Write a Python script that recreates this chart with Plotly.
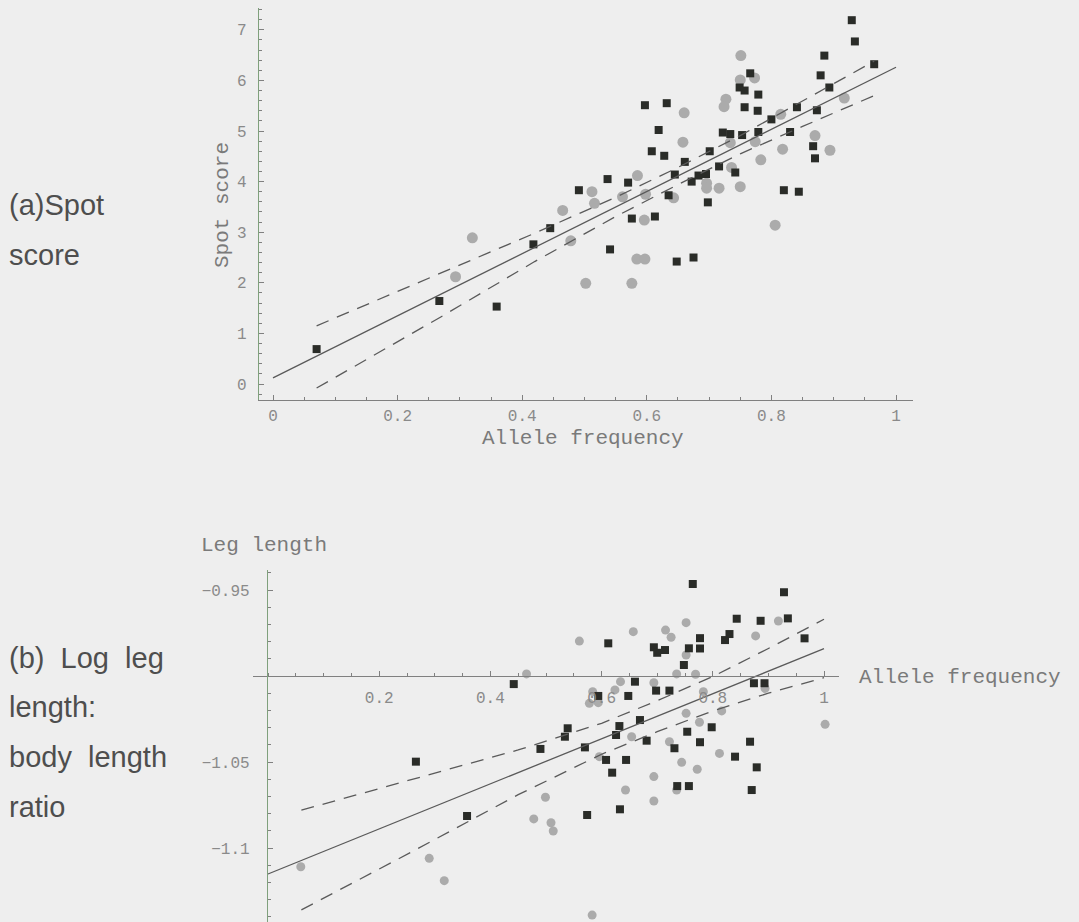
import plotly.graph_objects as go

W, H = 1079, 922

# ---------------- Panel (a): Spot score ----------------
a_sq_x = [0.929, 0.934, 0.885, 0.965, 0.879, 0.766, 0.749, 0.757, 0.779, 0.893, 0.597, 0.632,
          0.757, 0.778, 0.841, 0.873, 0.800, 0.619, 0.722, 0.734, 0.753, 0.779, 0.830, 0.867,
          0.870, 0.608, 0.628, 0.701, 0.661, 0.716, 0.742, 0.537, 0.570, 0.645, 0.683, 0.695,
          0.672, 0.491, 0.820, 0.844, 0.635, 0.698, 0.613, 0.576, 0.445, 0.418, 0.541, 0.648,
          0.675, 0.359, 0.070, 0.267]
a_sq_y = [7.19, 6.77, 6.49, 6.32, 6.10, 6.14, 5.86, 5.80, 5.72, 5.86, 5.51, 5.55,
          5.47, 5.40, 5.47, 5.41, 5.23, 5.02, 4.97, 4.94, 4.92, 4.98, 4.98, 4.70,
          4.46, 4.60, 4.51, 4.60, 4.39, 4.30, 4.18, 4.05, 3.98, 4.14, 4.12, 4.15,
          4.00, 3.83, 3.83, 3.80, 3.73, 3.59, 3.31, 3.27, 3.08, 2.76, 2.66, 2.42,
          2.50, 1.53, 0.69, 1.64]
a_ci_x = [0.751, 0.750, 0.773, 0.727, 0.724, 0.660, 0.917, 0.815, 0.870, 0.894, 0.658, 0.734,
          0.774, 0.818, 0.783, 0.585, 0.736, 0.750, 0.696, 0.696, 0.716, 0.512, 0.561, 0.598,
          0.643, 0.516, 0.465, 0.596, 0.478, 0.584, 0.597, 0.502, 0.576, 0.806, 0.320, 0.293]
a_ci_y = [6.49, 6.01, 6.05, 5.63, 5.48, 5.36, 5.65, 5.33, 4.91, 4.62, 4.78, 4.77,
          4.79, 4.64, 4.43, 4.12, 4.28, 3.90, 3.97, 3.87, 3.87, 3.80, 3.70, 3.75,
          3.68, 3.57, 3.43, 3.24, 2.83, 2.47, 2.47, 1.99, 1.99, 3.14, 2.89, 2.12]
a_fit_x = [0.0, 1.0]
a_fit_y = [0.12, 6.26]
a_band_x = [0.07, 0.27, 0.42, 0.55, 0.65, 0.75, 0.85, 0.965]
a_band_up = [1.15, 2.20, 2.98, 3.69, 4.28, 4.91, 5.59, 6.38]
a_band_lo = [-0.08, 1.33, 2.42, 3.31, 3.94, 4.55, 5.09, 5.70]
a_xticks = [0, 0.2, 0.4, 0.6, 0.8, 1]
a_xtick_text = ["0", "0.2", "0.4", "0.6", "0.8", "1"]
a_yticks = [0, 1, 2, 3, 4, 5, 6, 7]

# ---------------- Panel (b): log leg length ----------------
b_sq_x = [0.764, 0.928, 0.843, 0.886, 0.935, 0.965, 0.612, 0.694, 0.700, 0.714, 0.757, 0.777,
          0.777, 0.822, 0.830, 0.748, 0.442, 0.660, 0.594, 0.648, 0.698, 0.722, 0.874, 0.893,
          0.669, 0.632, 0.626, 0.539, 0.534, 0.490, 0.570, 0.681, 0.754, 0.798, 0.777, 0.867,
          0.731, 0.608, 0.644, 0.840, 0.879, 0.619, 0.574, 0.633, 0.736, 0.757, 0.870, 0.266,
          0.358]
b_sq_y = [-0.9465, -0.9513, -0.9667, -0.9679, -0.9665, -0.9781, -0.9810, -0.9833, -0.9865,
          -0.9849, -0.9839, -0.9780, -0.9840, -0.9791, -0.9756, -0.9936, -1.0047, -1.0033,
          -1.0116, -1.0116, -1.0085, -1.0085, -1.0042, -1.0042, -1.0256, -1.0291, -1.0343,
          -1.0304, -1.0353, -1.0424, -1.0415, -1.0376, -1.0324, -1.0298, -1.0385, -1.0382,
          -1.0420, -1.0488, -1.0488, -1.0469, -1.0531, -1.0562, -1.0808, -1.0775, -1.0640,
          -1.0640, -1.0663, -1.0498, -1.0814]
b_ci_x = [0.752, 0.657, 0.715, 0.725, 0.560, 0.918, 0.877, 0.752, 0.465, 0.735, 0.769, 0.634,
          0.694, 0.624, 0.584, 0.783, 0.894, 0.578, 0.594, 0.752, 0.816, 0.776, 0.654, 1.002,
          0.722, 0.596, 0.812, 0.744, 0.772, 0.694, 0.643, 0.735, 0.694, 0.499, 0.478, 0.509,
          0.513, 0.583, 0.059, 0.290, 0.317]
b_ci_y = [-0.9690, -0.9742, -0.9733, -0.9775, -0.9797, -0.9680, -0.9767, -0.9878, -0.9988,
          -0.9988, -0.9990, -1.0033, -1.0039, -1.0081, -1.0091, -1.0091, -1.0072, -1.0159,
          -1.0155, -1.0217, -1.0203, -1.0269, -1.0353, -1.0281, -1.0382, -1.0469, -1.0450,
          -1.0502, -1.0542, -1.0585, -1.0663, -1.0663, -1.0727, -1.0705, -1.0831, -1.0853,
          -1.0901, -1.1390, -1.1109, -1.1060, -1.1190]
b_fit_x = [0.0, 1.0]
b_fit_y = [-1.1151, -0.9841]
b_band_x = [0.06, 0.26, 0.45, 0.60, 0.70, 0.80, 0.90, 1.0]
b_band_up = [-1.078, -1.060, -1.043, -1.0275, -1.0144, -1.0003, -0.984, -0.967]
b_band_lo = [-1.136, -1.102, -1.069, -1.0455, -1.0324, -1.0203, -1.010, -1.001]
b_xticks = [0.2, 0.4, 0.6, 0.8, 1]
b_xtick_text = ["0.2", "0.4", "0.6", "0.8", "1"]
b_yticks = [-0.95, -1.05, -1.1]
b_ytick_text = ["\u22120.95", "\u22121.05", "\u22121.1"]

# ---------------- styling ----------------
BG = "#eeeeee"
SQ = "#2a2c28"
CI = "#ababab"
LINE = "#5a5a5a"
AXIS = "#808080"
YAXIS = "#7fa07c"
TICKC = "#8a8a8a"
MONO = "Liberation Mono, Courier New, monospace"
SANS = "Liberation Sans, Arial, sans-serif"


def px_x(p):
    return p / W


def px_y(p):
    return 1 - p / H


fig = go.Figure()

# Panel (a) traces
fig.add_trace(go.Scatter(x=a_ci_x, y=a_ci_y, mode="markers", xaxis="x", yaxis="y",
                         marker=dict(symbol="circle", size=11, color=CI), showlegend=False))
fig.add_trace(go.Scatter(x=a_sq_x, y=a_sq_y, mode="markers", xaxis="x", yaxis="y",
                         marker=dict(symbol="square", size=8, color=SQ), showlegend=False))
fig.add_trace(go.Scatter(x=a_fit_x, y=a_fit_y, mode="lines", xaxis="x", yaxis="y",
                         line=dict(color=LINE, width=1.3), showlegend=False))
fig.add_trace(go.Scatter(x=a_band_x, y=a_band_up, mode="lines", xaxis="x", yaxis="y",
                         line=dict(color=LINE, width=1.3, dash="13px,9px"), showlegend=False))
fig.add_trace(go.Scatter(x=a_band_x, y=a_band_lo, mode="lines", xaxis="x", yaxis="y",
                         line=dict(color=LINE, width=1.3, dash="13px,9px"), showlegend=False))

# Panel (b) traces
fig.add_trace(go.Scatter(x=b_ci_x, y=b_ci_y, mode="markers", xaxis="x2", yaxis="y2",
                         marker=dict(symbol="circle", size=9, color=CI), showlegend=False))
fig.add_trace(go.Scatter(x=b_sq_x, y=b_sq_y, mode="markers", xaxis="x2", yaxis="y2",
                         marker=dict(symbol="square", size=8, color=SQ), showlegend=False))
fig.add_trace(go.Scatter(x=b_fit_x, y=b_fit_y, mode="lines", xaxis="x2", yaxis="y2",
                         line=dict(color=LINE, width=1.3), showlegend=False))
fig.add_trace(go.Scatter(x=b_band_x, y=b_band_up, mode="lines", xaxis="x2", yaxis="y2",
                         line=dict(color=LINE, width=1.3, dash="13px,9px"), showlegend=False))
fig.add_trace(go.Scatter(x=b_band_x, y=b_band_lo, mode="lines", xaxis="x2", yaxis="y2",
                         line=dict(color=LINE, width=1.3, dash="13px,9px"), showlegend=False))

tickfont = dict(family=MONO, size=16, color=TICKC)

fig.update_layout(
    width=W, height=H, autosize=False,
    margin=dict(l=0, r=0, t=0, b=0),
    paper_bgcolor=BG, plot_bgcolor=BG,
    showlegend=False,
    xaxis=dict(domain=[px_x(259), px_x(913)], range=[-0.02247, 1.02729], anchor="y",
               showgrid=False, zeroline=False, showline=True, linecolor=AXIS, linewidth=1.3,
               ticks="inside", ticklen=5, tickcolor=AXIS, tickwidth=1,
               tickvals=a_xticks, ticktext=a_xtick_text, tickfont=tickfont,
               ticklabelstandoff=1,
               minor=dict(dtick=0.05, ticks="inside", ticklen=3, tickcolor=AXIS, showgrid=False)),
    yaxis=dict(domain=[px_y(400), px_y(8)], range=[-0.316, 7.431], anchor="x",
               showgrid=False, zeroline=False, showline=True, linecolor=YAXIS, linewidth=1.3,
               ticks="inside", ticklen=5, tickcolor=AXIS, tickwidth=1,
               tickvals=a_yticks, tickfont=tickfont, ticklabelstandoff=8,
               minor=dict(dtick=0.2, ticks="inside", ticklen=3, tickcolor=AXIS, showgrid=False)),
    xaxis2=dict(domain=[px_x(253), px_x(839)], range=[-0.02698, 1.02698],
                anchor="free", position=px_y(676),
                showgrid=False, zeroline=False, showline=True, linecolor=AXIS, linewidth=1.3,
                ticks="inside", ticklen=5, tickcolor=AXIS, tickwidth=1,
                tickvals=b_xticks, ticktext=b_xtick_text, tickfont=tickfont,
                ticklabelstandoff=7,
                minor=dict(dtick=0.05, ticks="inside", ticklen=3, tickcolor=AXIS, showgrid=False)),
    yaxis2=dict(domain=[0, px_y(570)], range=[-1.14302, -0.93837],
                anchor="free", position=px_x(267),
                showgrid=False, zeroline=False, showline=True, linecolor=YAXIS, linewidth=1.3,
                ticks="inside", ticklen=5, tickcolor=AXIS, tickwidth=1,
                tickvals=b_yticks, ticktext=b_ytick_text, tickfont=tickfont,
                ticklabelstandoff=14,
                minor=dict(dtick=0.01, ticks="inside", ticklen=3, tickcolor=AXIS, showgrid=False)),
)

ann = []
# axis titles
ann.append(dict(text="Allele frequency", x=px_x(583), y=px_y(438), xref="paper", yref="paper",
                xanchor="center", yanchor="middle", showarrow=False,
                font=dict(family=MONO, size=21, color="#7a7a7a")))
ann.append(dict(text="Spot score", x=px_x(222), y=px_y(205), xref="paper", yref="paper",
                xanchor="center", yanchor="middle", showarrow=False, textangle=-90,
                font=dict(family=MONO, size=21, color="#7a7a7a")))
ann.append(dict(text="Allele frequency", x=px_x(857), y=px_y(677), xref="paper", yref="paper",
                xanchor="left", yanchor="middle", showarrow=False,
                font=dict(family=MONO, size=21, color="#7a7a7a")))
ann.append(dict(text="Leg length", x=px_x(199), y=px_y(545), xref="paper", yref="paper",
                xanchor="left", yanchor="middle", showarrow=False,
                font=dict(family=MONO, size=21, color="#7a7a7a")))

# panel labels on the left
NB = "\u00a0"
left_labels = [
    ("(a)Spot", 205), ("score", 255),
    ("(b)" + NB * 2 + "Log" + NB * 2 + "leg", 658), ("length:", 707),
    ("body" + NB * 2 + "length", 757), ("ratio", 807),
]
for txt, yc in left_labels:
    ann.append(dict(text=txt, x=px_x(7), y=px_y(yc), xref="paper", yref="paper",
                    xanchor="left", yanchor="middle", showarrow=False,
                    font=dict(family=SANS, size=29, color="#4e4e4e")))

fig.update_layout(annotations=ann)

fig.write_html("out.html")
